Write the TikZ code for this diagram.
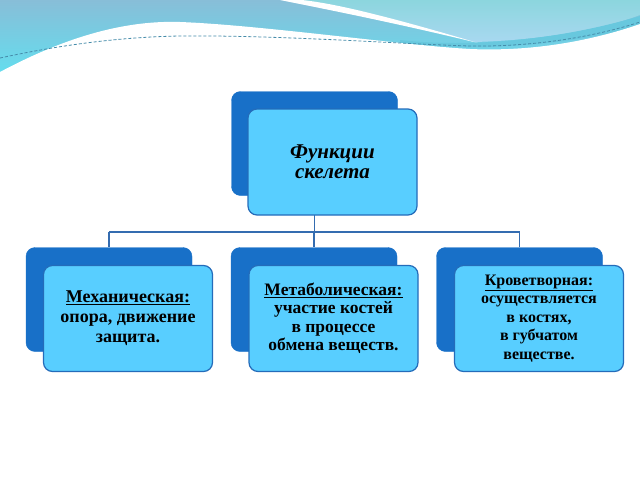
\documentclass[tikz,border=0pt]{standalone}
\usepackage{fontspec}
\setmainfont{Liberation Serif}
\definecolor{backblue}{RGB}{24,112,200}
\definecolor{frontcyan}{RGB}{88,206,255}
\definecolor{borderblue}{RGB}{36,108,186}
\definecolor{connblue}{RGB}{52,108,176}
\definecolor{greyteal}{RGB}{136,190,216}
\definecolor{brightcyan}{RGB}{96,224,240}
\definecolor{lightteal}{RGB}{140,214,222}
\definecolor{paleblue}{RGB}{168,216,240}
\definecolor{bandteal}{RGB}{104,200,222}
\definecolor{dashteal}{RGB}{70,140,170}
\begin{document}
\begin{tikzpicture}[x=1pt,y=-1pt,
  backbox/.style={draw=backblue, fill=backblue, rounded corners=9pt,
    minimum width=166pt, minimum height=104pt, inner sep=0pt},
  frontbox/.style={draw=borderblue, line width=1.2pt, fill=frontcyan,
    rounded corners=9pt, minimum width=169pt, minimum height=106pt,
    inner sep=0pt, align=center},
  titlefont/.style={font=\bfseries\itshape\fontsize{21}{20}\selectfont},
  conn/.style={draw=connblue, line width=1.3pt}]
\useasboundingbox (0,0) rectangle (640,480);
\fill[white] (0,0) rectangle (640,480);
% background waves
\shade[top color=greyteal, bottom color=brightcyan]
  (0,0) -- (640,0) -- (640,80) -- (0,80) -- cycle;
\shade[top color=lightteal, bottom color=paleblue]
  (300,0) -- (640,0) -- (640,15) .. controls (600,30) and (540,40) .. (475,42)
  .. controls (400,22) and (340,5) .. (300,0) -- cycle;
\fill[white] (280,0) .. controls (330,10) and (400,24) .. (478,43)
  .. controls (400,20) and (340,4) .. (302,0) -- cycle;
\fill[bandteal] (400,40) .. controls (470,48) and (560,40) .. (640,16)
  -- (640,26) .. controls (570,45) and (480,52) .. (400,44) -- cycle;
\fill[white] (0,72) .. controls (60,40) and (120,20) .. (180,22)
  .. controls (260,25) and (400,45) .. (470,49)
  .. controls (540,52) and (600,38) .. (640,24) -- (640,480) -- (0,480) -- cycle;
\draw[dashteal, densely dashed, line width=0.8pt]
  (0,58) .. controls (60,45) and (120,37) .. (180,36)
  .. controls (280,35) and (400,44) .. (470,46)
  .. controls (540,47) and (600,35) .. (640,22);
% boxes
\node[backbox] (topback) at (314.5,143.5) {};
\node[backbox] (leftback) at (109,299.5) {};
\node[backbox] (midback) at (314,299.5) {};
\node[backbox] (rightback) at (519.5,299.5) {};
\coordinate (bus) at (314,232);
\draw[conn] (topback.south) -- (topback.south |- bus);
\draw[conn] (leftback.north |- bus) -- (rightback.north |- bus);
\draw[conn] (leftback.north |- bus) -- (leftback.north);
\draw[conn] (midback.north |- bus) -- (midback.north);
\draw[conn] (rightback.north |- bus) -- (rightback.north);
\node[frontbox, titlefont] (topfront) at (332.5,162) {Функции\\ скелета};
\node[frontbox, font=\bfseries\fontsize{18}{20}\selectfont] (leftfront) at (128,318.5)
  {\underline{Механическая:}\\ опора, движение\\ защита.};
\node[frontbox, font=\bfseries\fontsize{17.5}{18.5}\selectfont] (midfront) at (333.5,318.5)
  {\underline{Метаболическая:}\\ участие костей\\ в процессе\\ обмена веществ.};
\node[frontbox, font=\bfseries\fontsize{16}{18.5}\selectfont] (rightfront) at (539,318.5)
  {\underline{Кроветворная:}\\ осуществляется\\ в костях,\\ в губчатом\\ веществе.};
\end{tikzpicture}
\end{document}
